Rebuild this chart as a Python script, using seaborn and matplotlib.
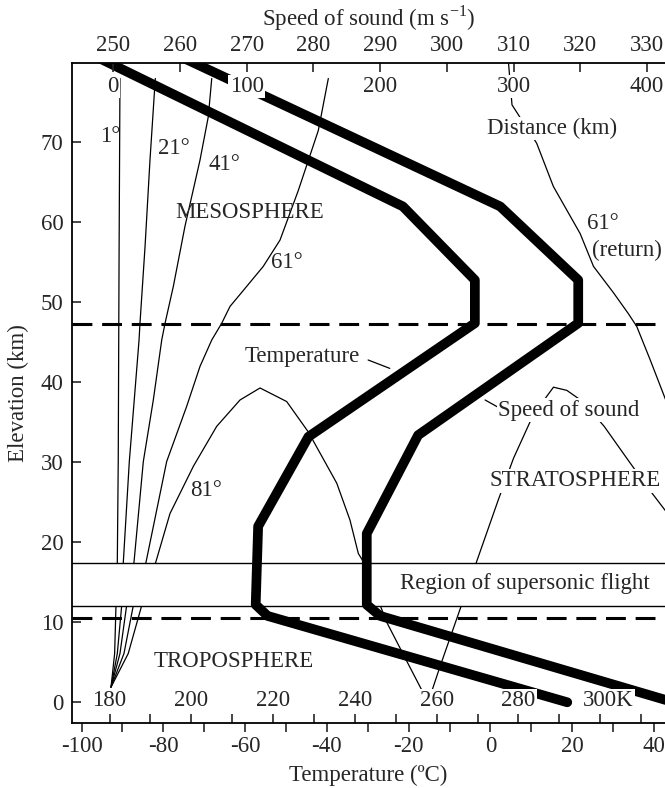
import matplotlib
matplotlib.use("Agg")
import matplotlib.pyplot as plt
from matplotlib import transforms
from matplotlib.ticker import MultipleLocator
import seaborn as sns

# temperature profile: deg C against elevation (km)
temp_c = [-97.5, -21.4, -3.8, -3.8, -44.5, -56.8, -57.4, -54.5, 18.8]
temp_z = [81.0, 62.0, 52.8, 47.4, 33.2, 22.0, 12.2, 10.8, 0.0]

# speed of sound profile: m/s against elevation (km)
sound_c = [259.4, 308.0, 319.7, 319.7, 295.7, 288.0, 288.0, 290.0, 334.0]
sound_z = [81.0, 62.0, 52.8, 47.4, 33.4, 21.1, 12.2, 10.8, 0.0]

# sound rays: distance (km) against elevation (km)
ray_1_d = [-1.7, 1.0, 2.0, 3.0, 3.7, 4.3, 5.0]
ray_1_z = [1.9, 6.1, 12.1, 17.5, 30.1, 55.0, 78.0]
ray_21_d = [-1.7, 3.0, 6.3, 7.5, 12.0, 19.3, 20.0, 23.8, 27.5, 31.5]
ray_21_z = [1.9, 6.1, 12.1, 17.5, 30.1, 45.3, 47.4, 57.0, 67.8, 78.0]
ray_41_d = [-1.7, 5.0, 10.0, 15.5, 22.5, 30.0, 36.3, 38.8, 45.0, 53.7, 65.0, 71.2, 73.8]
ray_41_z = [1.9, 6.1, 12.1, 17.5, 30.1, 37.8, 45.3, 47.4, 52.0, 59.5, 67.8, 73.2, 78.0]
ray_61_d = [-1.7, 8.0, 15.0, 24.5, 40.0, 55.0, 65.0, 73.8, 81.3, 87.5, 97.5, 112.4,
            125.0, 138.7, 153.7, 161.2]
ray_61_z = [1.9, 6.1, 12.1, 17.5, 30.1, 37.0, 42.0, 45.3, 47.4, 49.5, 51.5, 54.5,
            57.8, 64.0, 71.5, 78.0]
ray_81_d = [-1.7, 11.2, 21.3, 31.8, 42.5, 60.0, 77.5, 95.0, 110.0, 130.0, 146.2,
            167.5, 177.4, 183.7, 187.4, 205.0, 222.0, 236.0,
            244.9, 262.4, 272.4, 288.6, 300.0, 315.0, 330.0, 340.0, 352.0,
            368.0, 385.0, 400.0, 416.0]
ray_81_z = [1.9, 6.1, 12.1, 17.5, 23.6, 29.5, 34.5, 37.8, 39.3, 37.6, 33.8,
            27.4, 22.8, 18.6, 17.6, 10.0, 4.5, 0.0,
            4.45, 12.8, 17.6, 25.3, 30.5, 36.0, 39.4, 39.0, 37.6,
            34.5, 30.5, 27.0, 23.5]
ray_return_d = [296.0, 298.9, 317.4, 329.9, 350.0, 360.0, 375.0, 386.1, 392.4, 402.3, 416.0]
ray_return_z = [80.5, 74.7, 69.9, 64.5, 58.6, 54.5, 51.2, 48.6, 47.0, 42.9, 37.0]

rays = [(ray_1_d, ray_1_z), (ray_21_d, ray_21_z), (ray_41_d, ray_41_z),
        (ray_61_d, ray_61_z), (ray_81_d, ray_81_z), (ray_return_d, ray_return_z)]

# axis ticks
temp_ticks = list(range(-100, 41, 20))
kelvin_ticks = list(range(180, 311, 10))
kelvin_labels = [180, 200, 220, 240, 260, 280]
speed_ticks = list(range(250, 331, 10))
distance_labels = [0, 100, 200, 300, 400]
elev_ticks = list(range(0, 71, 10))

# layer boundaries (km)
tropopause = 10.6
stratopause = 47.3
band_low, band_high = 12.1, 17.45

sns.set_theme(style="white")
plt.rcParams["font.family"] = ["Liberation Serif", "DejaVu Serif"]
plt.rcParams["mathtext.fontset"] = "custom"
plt.rcParams["mathtext.rm"] = "Liberation Serif"
plt.rcParams["axes.unicode_minus"] = False
FS = 16.5

fig = plt.figure(figsize=(6.65, 7.88), dpi=100)
rect = [0.1078, 0.0829, 0.8922, 0.8368]

# bottom layer: ray paths on the distance scale
ax_r = fig.add_axes(rect)
# middle layer: temperature scale
ax_t = fig.add_axes(rect, sharey=ax_r, facecolor="none")
# top layer: speed of sound scale
ax_s = fig.add_axes(rect, sharey=ax_r, facecolor="none")

for d, z in rays:
    sns.lineplot(x=d, y=z, sort=False, estimator=None, color="black", lw=0.9, ax=ax_r)
ax_r.set_xlim(-31.2, 413.6)
ax_r.set_ylim(-2.55, 79.9)
ax_r.axis("off")

# temperature layer
ax_t.axhspan(band_low, band_high, facecolor="white", edgecolor="none", zorder=1)
for z in (band_low, band_high):
    ax_t.axhline(z, color="black", lw=1.0, zorder=1.5)
for z in (tropopause, stratopause):
    ax_t.axhline(z, color="black", lw=2.2, ls=(0, (6.5, 3.2)), zorder=2)
sns.lineplot(x=temp_c, y=temp_z, sort=False, estimator=None, color="black",
             lw=7, ax=ax_t, zorder=3)
ax_t.set_xlim(-102.4, 42.7)
ax_t.set_ylim(-2.55, 79.9)
ax_t.set_xticks(temp_ticks)
ax_t.xaxis.set_minor_locator(MultipleLocator(10))
ax_t.set_yticks(elev_ticks)
ax_t.tick_params(axis="x", which="both", direction="out", length=6.5, width=1.2,
                 bottom=True, top=False, labelsize=FS, pad=3)
ax_t.tick_params(axis="y", direction="in", length=6.5, width=1.2, left=True,
                 labelsize=FS, pad=6)
ax_t.set_xlabel("Temperature (ºC)", fontsize=FS, labelpad=6)
ax_t.set_ylabel("Elevation (km)", fontsize=FS, labelpad=8)
for side in ("left", "bottom"):
    ax_t.spines[side].set_linewidth(1.3)
    ax_t.spines[side].set_color("black")
for side in ("top", "right"):
    ax_t.spines[side].set_visible(False)

kelvin = ax_t.secondary_xaxis("bottom", functions=(lambda c: c + 273.15, lambda k: k - 273.15))
kelvin.set_xticks(kelvin_ticks)
kelvin.tick_params(direction="in", length=6.5, width=1.2, labelbottom=False)
kelvin.spines["bottom"].set_visible(False)

# speed of sound layer
sns.lineplot(x=sound_c, y=sound_z, sort=False, estimator=None, color="black",
             lw=7, ax=ax_s)
ax_s.set_xlim(243.76, 332.71)
ax_s.xaxis.set_ticks_position("top")
ax_s.xaxis.set_label_position("top")
ax_s.set_xticks(speed_ticks)
ax_s.tick_params(axis="x", direction="in", length=6.5, width=1.2, top=True,
                 bottom=False, labeltop=True, labelbottom=False, labelsize=FS, pad=5)
ax_s.set_xlabel("Speed of sound (m s$^{-1}$)", fontsize=FS, labelpad=7)
ax_s.yaxis.set_visible(False)
for side in ("left", "bottom", "right"):
    ax_s.spines[side].set_visible(False)
ax_s.spines["top"].set_linewidth(1.3)
ax_s.spines["top"].set_color("black")

box = dict(facecolor="white", edgecolor="none", pad=1.0)

# inner scale labels
for k in kelvin_labels:
    ax_s.text(k - 273.15, 0.2, str(k), transform=ax_t.transData, ha="center",
              va="center", fontsize=FS, bbox=box, zorder=6)
ax_s.text(300 - 273.15, 0.2, "300K",
          transform=transforms.offset_copy(ax_t.transData, fig=fig, x=8, units="dots"),
          ha="center", va="center", fontsize=FS, bbox=box, zorder=6)
for d in distance_labels:
    ax_s.text(d, 77.0, str(d), transform=ax_r.transData, ha="center", va="center",
              fontsize=FS, bbox=box, zorder=6)

# layer names and annotations
ax_s.text(-77.1, 61.2, "MESOSPHERE", transform=ax_t.transData, ha="left",
          va="center", fontsize=FS)
ax_s.text(41.6, 27.7, "STRATOSPHERE", transform=ax_t.transData, ha="right",
          va="center", fontsize=FS, bbox=box)
ax_s.text(-82.4, 5.1, "TROPOSPHERE", transform=ax_t.transData, ha="left",
          va="center", fontsize=FS)
ax_s.text(8.4, 14.85, "Region of supersonic flight", transform=ax_t.transData,
          ha="center", va="center", fontsize=FS)
ax_s.text(-46.1, 43.2, "Temperature", transform=ax_t.transData, ha="center",
          va="center", fontsize=FS)
ax_s.plot([-29.9, -24.6], [42.8, 41.75], transform=ax_t.transData, color="black", lw=0.9)
ax_s.text(1.85, 36.5, "Speed of sound", transform=ax_t.transData, ha="left",
          va="center", fontsize=FS, bbox=box)
ax_s.plot([-1.3, 2.2], [37.8, 36.8], transform=ax_t.transData, color="black", lw=0.9)
ax_s.text(328.7, 71.75, "Distance (km)", transform=ax_r.transData, ha="center",
          va="center", fontsize=FS, bbox=box)
ax_s.text(367.3, 59.9, "61°", transform=ax_r.transData, ha="center", va="center",
          fontsize=FS)
ax_s.text(385.3, 56.5, "(return)", transform=ax_r.transData, ha="center",
          va="center", fontsize=FS)
ax_s.text(-2.5, 70.7, "1°", transform=ax_r.transData, ha="center", va="center",
          fontsize=FS)
ax_s.text(45.5, 69.25, "21°", transform=ax_r.transData, ha="center", va="center",
          fontsize=FS)
ax_s.text(83.0, 67.2, "41°", transform=ax_r.transData, ha="center", va="center",
          fontsize=FS)
ax_s.text(130.0, 55.0, "61°", transform=ax_r.transData, ha="center", va="center",
          fontsize=FS)
ax_s.text(69.3, 26.5, "81°", transform=ax_r.transData, ha="center", va="center",
          fontsize=FS)

fig.savefig("out.png", dpi=100)
